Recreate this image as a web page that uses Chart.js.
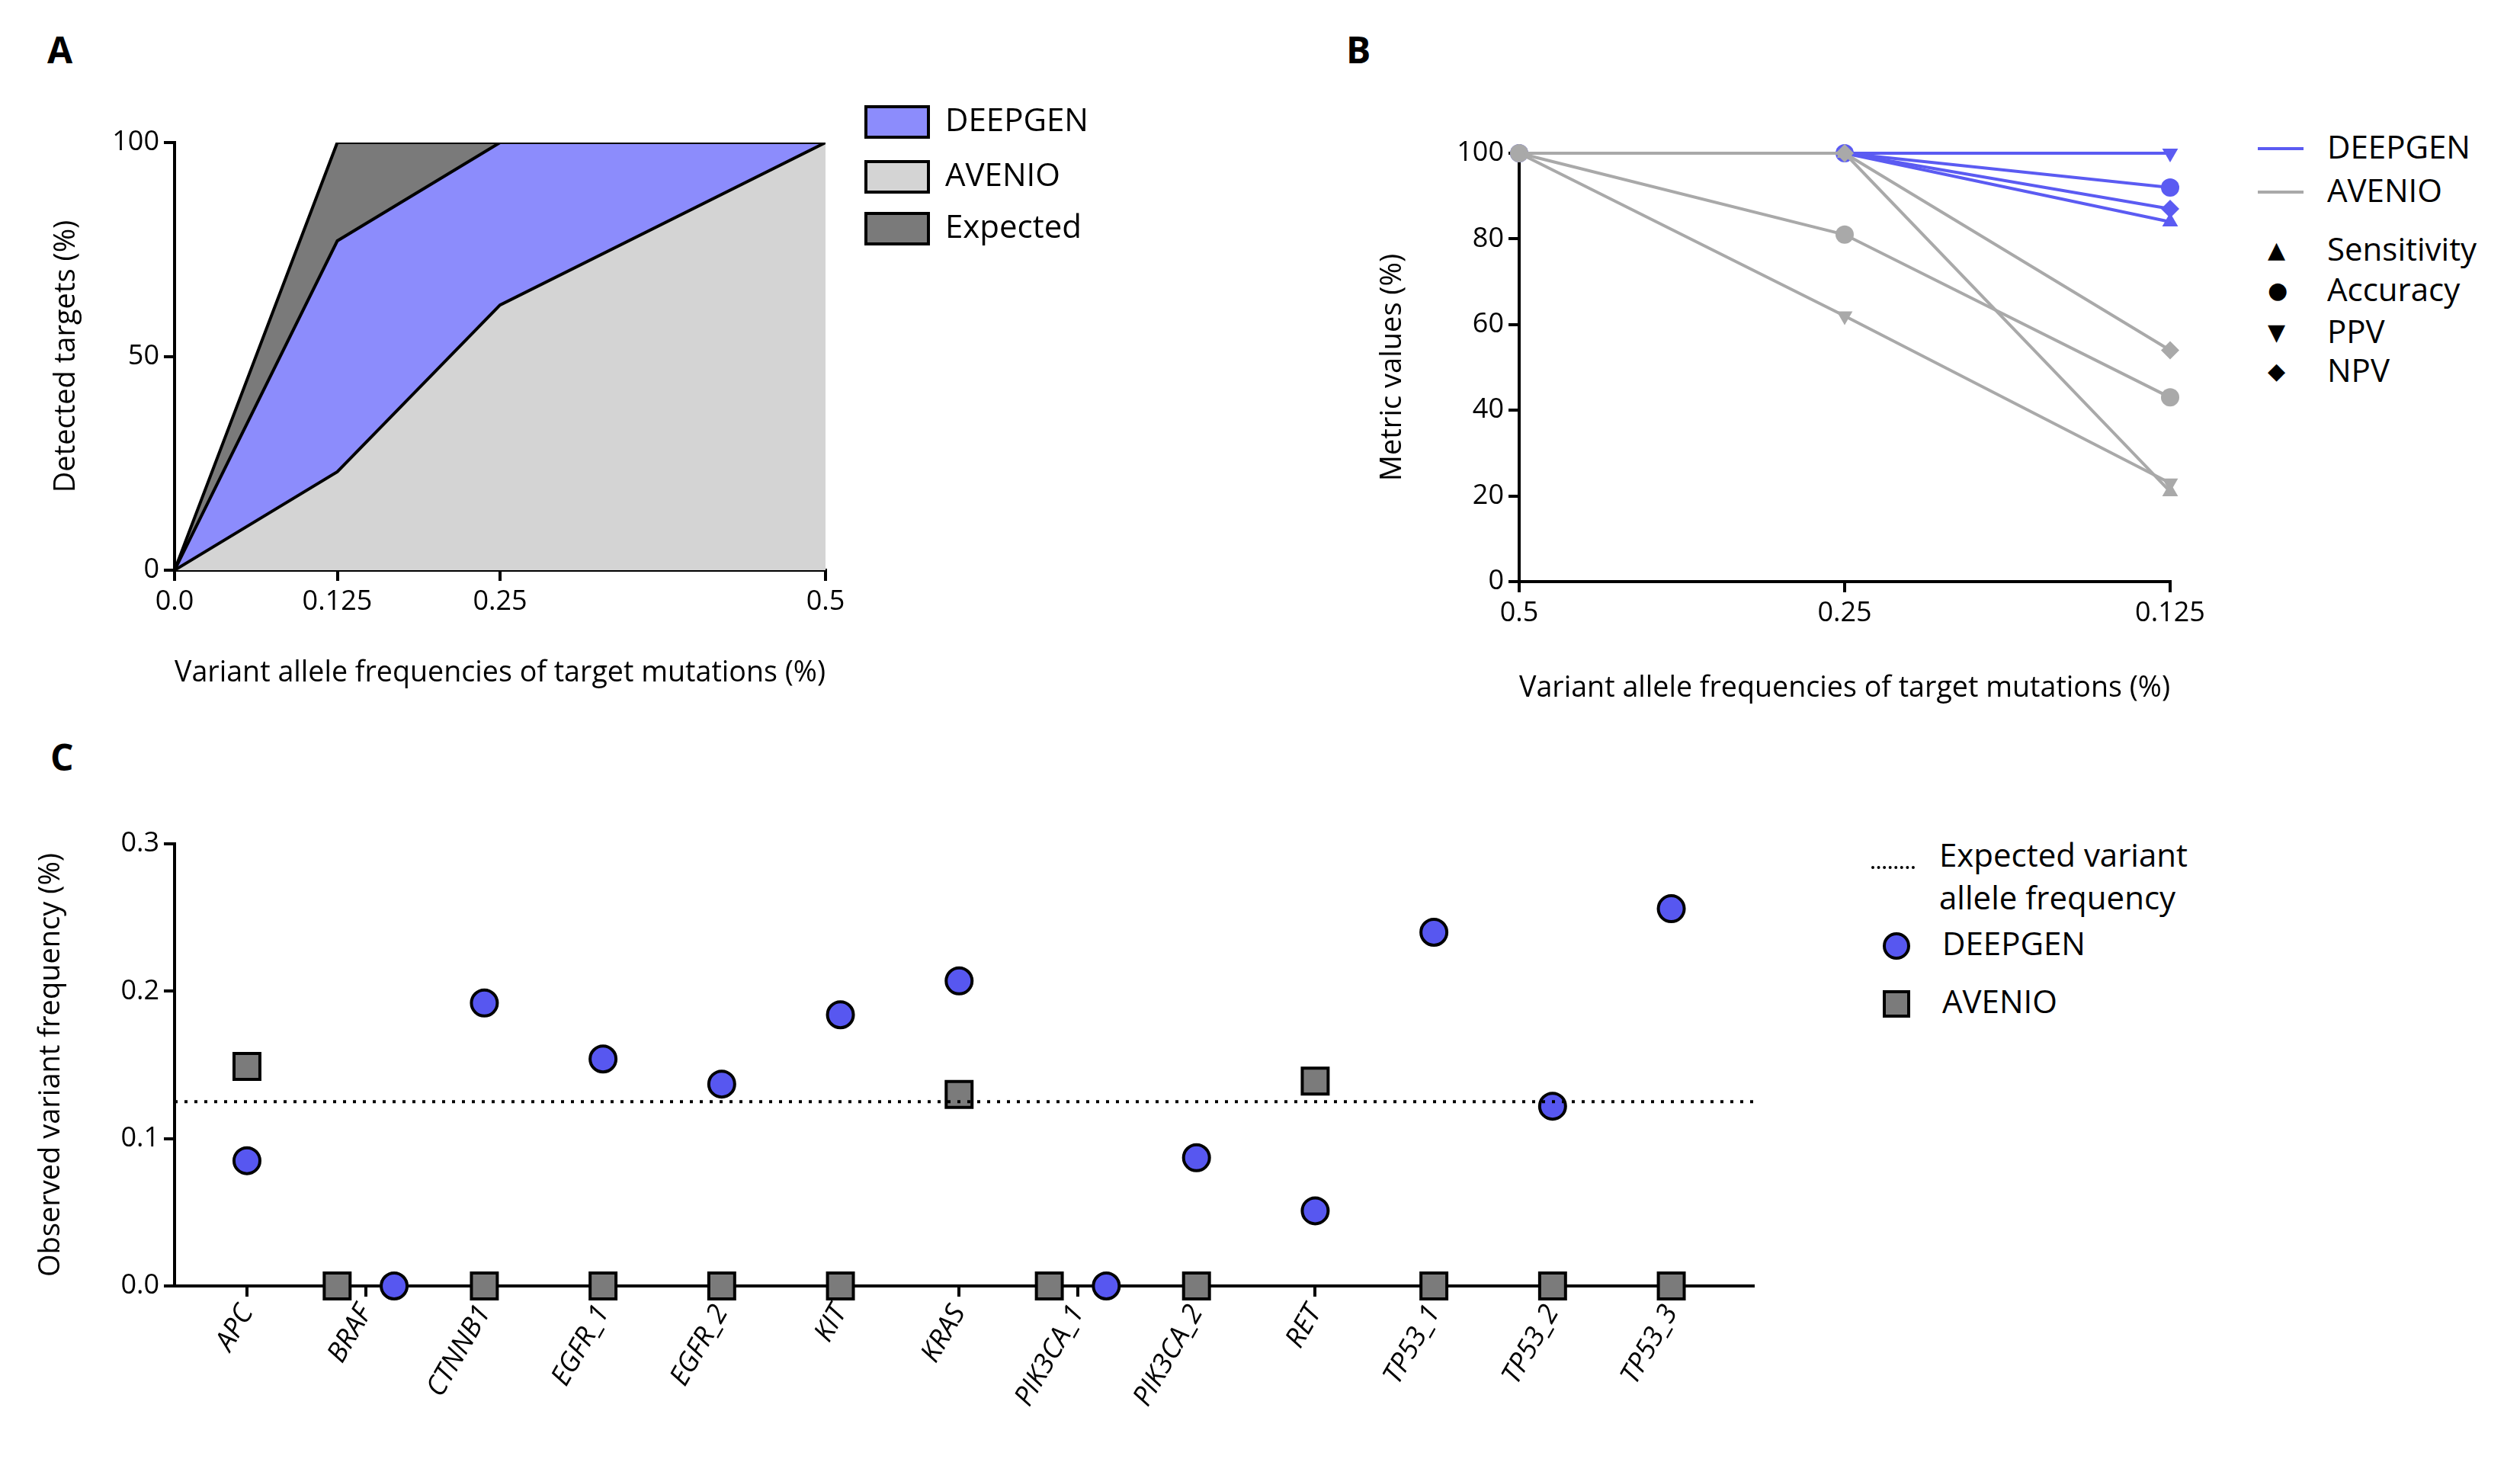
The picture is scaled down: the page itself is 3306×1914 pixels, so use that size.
<!DOCTYPE html>
<html><head><meta charset="utf-8">
<script src="https://cdn.jsdelivr.net/npm/chart.js@4.4.1/dist/chart.umd.min.js"></script>
<style>
body{margin:0;background:#fff;font-family:"Open Sans",sans-serif;color:#000}
#wrap{position:relative;width:3306px;height:1914px;overflow:hidden}
.box{position:absolute}
.lbl{position:absolute;font-weight:bold;font-size:48px;font-family:"Open Sans",sans-serif}
.lg{position:absolute;font-size:42px;line-height:1;white-space:nowrap}
</style></head>
<body><div id="wrap">
<div class="lbl" style="left:62px;top:32px">A</div>
<div class="lbl" style="left:1766px;top:32px">B</div>
<div class="lbl" style="left:66px;top:960px">C</div>
<div class="box" style="left:60px;top:150px;width:1120px;height:760px"><canvas id="a"></canvas></div>
<div class="box" style="left:1800px;top:150px;width:1120px;height:780px"><canvas id="b"></canvas></div>
<div class="box" style="left:40px;top:1060px;width:2320px;height:840px"><canvas id="c"></canvas></div>
<div id="legA"></div><div id="legB"></div><div id="legC"></div>
</div>
<script>
// panel A
const aX = [0, 0.125, 0.25, 0.5];
const aDeepgen = [0, 77, 100, 100];
const aAvenio = [0, 23, 62, 100];
const aExpected = [0, 100, 100, 100];
// panel B
const bLabels = ['0.5', '0.25', '0.125'];
const bDeep = { Sensitivity: [100, 100, 84], Accuracy: [100, 100, 92], PPV: [100, 100, 100], NPV: [100, 100, 87] };
const bAven = { Sensitivity: [100, 100, 21], Accuracy: [100, 81, 43], PPV: [100, 62, 23], NPV: [100, 100, 54] };
const bShapes = { Sensitivity: 'triangle', Accuracy: 'circle', PPV: 'triangle', NPV: 'rectRot' };
// panel C
const genes = ['APC','BRAF','CTNNB1','EGFR_1','EGFR_2','KIT','KRAS','PIK3CA_1','PIK3CA_2','RET','TP53_1','TP53_2','TP53_3'];
const cDeepgen = [0.085, 0, 0.192, 0.154, 0.137, 0.184, 0.207, 0, 0.087, 0.051, 0.240, 0.122, 0.256];
const cAvenio = [0.149, 0, 0, 0, 0, 0, 0.130, 0, 0, 0.139, 0, 0, 0];
const cShiftD = [0, 0.24, 0, 0, 0, 0, 0, 0.24, 0, 0, 0, 0, 0];
const cShiftA = [0, -0.24, 0, 0, 0, 0, 0, -0.24, 0, 0, 0, 0, 0];
const expectedVaf = 0.125;

const BLUE = '#5b5bf2', GREY = '#a9a9a9';
const F = 'Open Sans';
const tickFont = { family: F, size: 36 };
const titleFont = { family: F, size: 38 };
const axisBase = (extra) => Object.assign({
  border: { color: '#000', width: 4 },
  grid: { drawOnChartArea: false, color: '#000', lineWidth: 4, tickLength: 14 },
  ticks: { color: '#000', font: tickFont, padding: 6 },
}, extra);
const fitW = w => ({ afterFit(s){ s.width = w; } });
const fitH = h => ({ afterFit(s){ s.height = h; } });
const common = { responsive: true, maintainAspectRatio: false, animation: false, devicePixelRatio: 1,
  plugins: { legend: { display: false }, tooltip: { enabled: false } } };

new Chart(document.getElementById('a'), {
  type: 'line',
  data: { datasets: [
    { data: aX.map((x,i)=>({x, y:aAvenio[i]})), backgroundColor: '#d4d4d4', order: 1 },
    { data: aX.map((x,i)=>({x, y:aDeepgen[i]})), backgroundColor: '#8c8cfc', order: 2 },
    { data: aX.map((x,i)=>({x, y:aExpected[i]})), backgroundColor: '#7a7a7a', order: 3 },
  ].map(d => Object.assign(d, { fill: 'origin', borderColor: '#000', borderWidth: 4, pointRadius: 0 })) },
  options: Object.assign({}, common, {
    layout: { padding: { top: 37, right: 97 } },
    scales: {
      x: axisBase(Object.assign({ type: 'linear', min: 0, max: 0.5,
        afterBuildTicks(s){ s.ticks = aX.map(v=>({value:v})); },
        ticks: { color: '#000', font: tickFont, padding: 6, callback: v => v === 0 ? '0.0' : String(v) },
        title: { display: true, text: 'Variant allele frequencies of target mutations (%)', font: titleFont, color: '#000', padding: { top: 14 } } }, fitH(162))),
      y: axisBase(Object.assign({ min: 0, max: 100, ticks: { color: '#000', font: tickFont, stepSize: 50, padding: 6 },
        title: { display: true, text: 'Detected targets (%)', font: titleFont, color: '#000' } }, fitW(169))),
    }
  })
});

const bSets = [];
for (const k of Object.keys(bAven)) bSets.push({ data: bAven[k], borderColor: GREY, backgroundColor: GREY, pointStyle: bShapes[k], rotation: k==='PPV'?180:0 });
for (const k of Object.keys(bDeep)) bSets.push({ data: bDeep[k], borderColor: BLUE, backgroundColor: BLUE, pointStyle: bShapes[k], rotation: k==='PPV'?180:0 });
bSets.forEach(d => Object.assign(d, { borderWidth: 4, pointRadius: 12, pointBorderWidth: 0, clip: false }));
new Chart(document.getElementById('b'), {
  type: 'line',
  data: { labels: bLabels, datasets: bSets },
  options: Object.assign({}, common, {
    layout: { padding: { top: 51, right: 73 } },
    scales: {
      x: axisBase(Object.assign({ offset: false, grid: { drawOnChartArea: false, offset: false, color: '#000', lineWidth: 4, tickLength: 14 },
        title: { display: true, text: 'Variant allele frequencies of target mutations (%)', font: titleFont, color: '#000', padding: { top: 14 } } }, fitH(167))),
      y: axisBase(Object.assign({ min: 0, max: 100, ticks: { color: '#000', font: tickFont, stepSize: 20, padding: 6 },
        title: { display: true, text: 'Metric values (%)', font: titleFont, color: '#000' } }, fitW(193))),
    }
  })
});

const cMin = -0.61, cMax = 12.69;
new Chart(document.getElementById('c'), {
  type: 'scatter',
  data: { datasets: [
    { type: 'line', data: [{x:cMin,y:expectedVaf},{x:cMax,y:expectedVaf}], borderColor: '#000', borderWidth: 4, borderDash: [4, 9], pointRadius: 0 },
    { data: genes.map((g,i)=>({x:i+cShiftA[i], y:cAvenio[i]})), pointStyle: 'rect', pointRadius: 24, backgroundColor: '#7b7b7b', borderColor: '#000', borderWidth: 4 },
    { data: genes.map((g,i)=>({x:i+cShiftD[i], y:cDeepgen[i]})), pointStyle: 'circle', pointRadius: 17, backgroundColor: '#5757f0', borderColor: '#000', borderWidth: 4 },
  ].map(d => Object.assign(d, { clip: false })) },
  options: Object.assign({}, common, {
    layout: { padding: { top: 47, right: 60 } },
    scales: {
      x: axisBase(Object.assign({ type: 'linear', min: cMin, max: cMax,
        afterBuildTicks(s){ s.ticks = genes.map((g,i)=>({value:i})); },
        ticks: { color: '#000', font: { family: F, size: 36, style: 'italic' }, padding: 4, minRotation: 60, maxRotation: 60, autoSkip: false,
          callback: v => genes[v] } }, fitH(213))),
      y: axisBase(Object.assign({ min: 0, max: 0.3, ticks: { color: '#000', font: tickFont, stepSize: 0.1, padding: 6, callback: v => v.toFixed(1) },
        title: { display: true, text: 'Observed variant frequency (%)', font: titleFont, color: '#000' } }, fitW(189))),
    }
  })
});

// legends
const wrap = document.getElementById('wrap');
function add(html){ wrap.insertAdjacentHTML('beforeend', html); }
[['DEEPGEN','#8c8cfc',159],['AVENIO','#d4d4d4',231],['Expected','#7a7a7a',299]].forEach(([t,c,y]) => {
  add(`<div style="position:absolute;left:1134px;top:${y-21}px;width:78px;height:36px;background:${c};border:4px solid #000"></div>`);
  add(`<div class="lg" style="left:1240px;top:${y-24}px">${t}</div>`);
});
[['DEEPGEN',BLUE,195],['AVENIO',GREY,252]].forEach(([t,c,y]) => {
  add(`<div style="position:absolute;left:2962px;top:${y-2}px;width:60px;height:4px;background:${c}"></div>`);
  add(`<div class="lg" style="left:3053px;top:${y-24}px">${t}</div>`);
});
[['Sensitivity','▲',329],['Accuracy','●',382],['PPV','▼',437],['NPV','◆',488]].forEach(([t,m,y]) => {
  add(`<div class="lg" style="left:2975px;top:${y-16}px;font-size:30px;font-family:'DejaVu Sans'">${m}</div>`);
  add(`<div class="lg" style="left:3053px;top:${y-24}px">${t}</div>`);
});
add(`<div style="position:absolute;left:2455px;top:1136px;width:57px;border-top:4px dotted #000"></div>`);
add(`<div class="lg" style="left:2544px;top:1093px;line-height:56px">Expected variant<br>allele frequency</div>`);
add(`<div style="position:absolute;left:2470px;top:1223px;width:28px;height:28px;border-radius:50%;background:#5757f0;border:4px solid #000"></div>`);
add(`<div class="lg" style="left:2548px;top:1216px">DEEPGEN</div>`);
add(`<div style="position:absolute;left:2470px;top:1299px;width:28px;height:28px;background:#7b7b7b;border:4px solid #000"></div>`);
add(`<div class="lg" style="left:2548px;top:1292px">AVENIO</div>`);
</script>
</body></html>
